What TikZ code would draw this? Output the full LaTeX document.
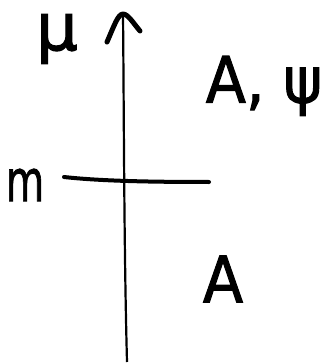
\documentclass[tikz,border=0pt]{standalone}
\usepackage{fontspec}
\setmainfont{DejaVu Sans}
\newfontfamily\handfont[FakeBold=1.6]{DejaVu Sans}
\usetikzlibrary{arrows.meta, positioning}

\begin{document}
\begin{tikzpicture}[
    x=1pt, y=-1pt,
    lbl/.style={font=\handfont\fontsize{58}{60}\selectfont, inner sep=0pt},
    region/.style={font=\handfont\fontsize{64}{70}\selectfont, inner sep=0pt, xscale=0.92},
    axis/.style={line width=2.2pt},
    head/.style={line width=5pt, line cap=round, line join=round},
    level/.style={line width=4pt, line cap=round}
]
    \useasboundingbox (0,0) rectangle (332,363);

    \coordinate (axbot) at (127,362);
    \coordinate (axtop) at (123,14);
    \coordinate (wingl) at (107,42);
    \coordinate (wingr) at (140,31);
    \coordinate (mleft) at (64,177);
    \coordinate (mright) at (209,182);

    \node[lbl, font=\handfont\fontsize{66}{70}\selectfont] (lblmu) at (57,39) {μ};
    \node[lbl, xscale=0.68] (lblm) at (25,185) {m};
    \node[region] (upper) at (264,86) {A, ψ};
    \node[region] (lower) at (223,279) {A};

    \draw[axis] (axbot) .. controls (124,250) and (124,120) .. (axtop);
    \draw[head] (wingl) .. controls (114,26) and (118,14) .. (axtop)
        .. controls (128,14) and (134,24) .. (wingr);
    \draw[level] (mleft) .. controls (100,181) and (150,182) .. (mright);
\end{tikzpicture}
\end{document}
